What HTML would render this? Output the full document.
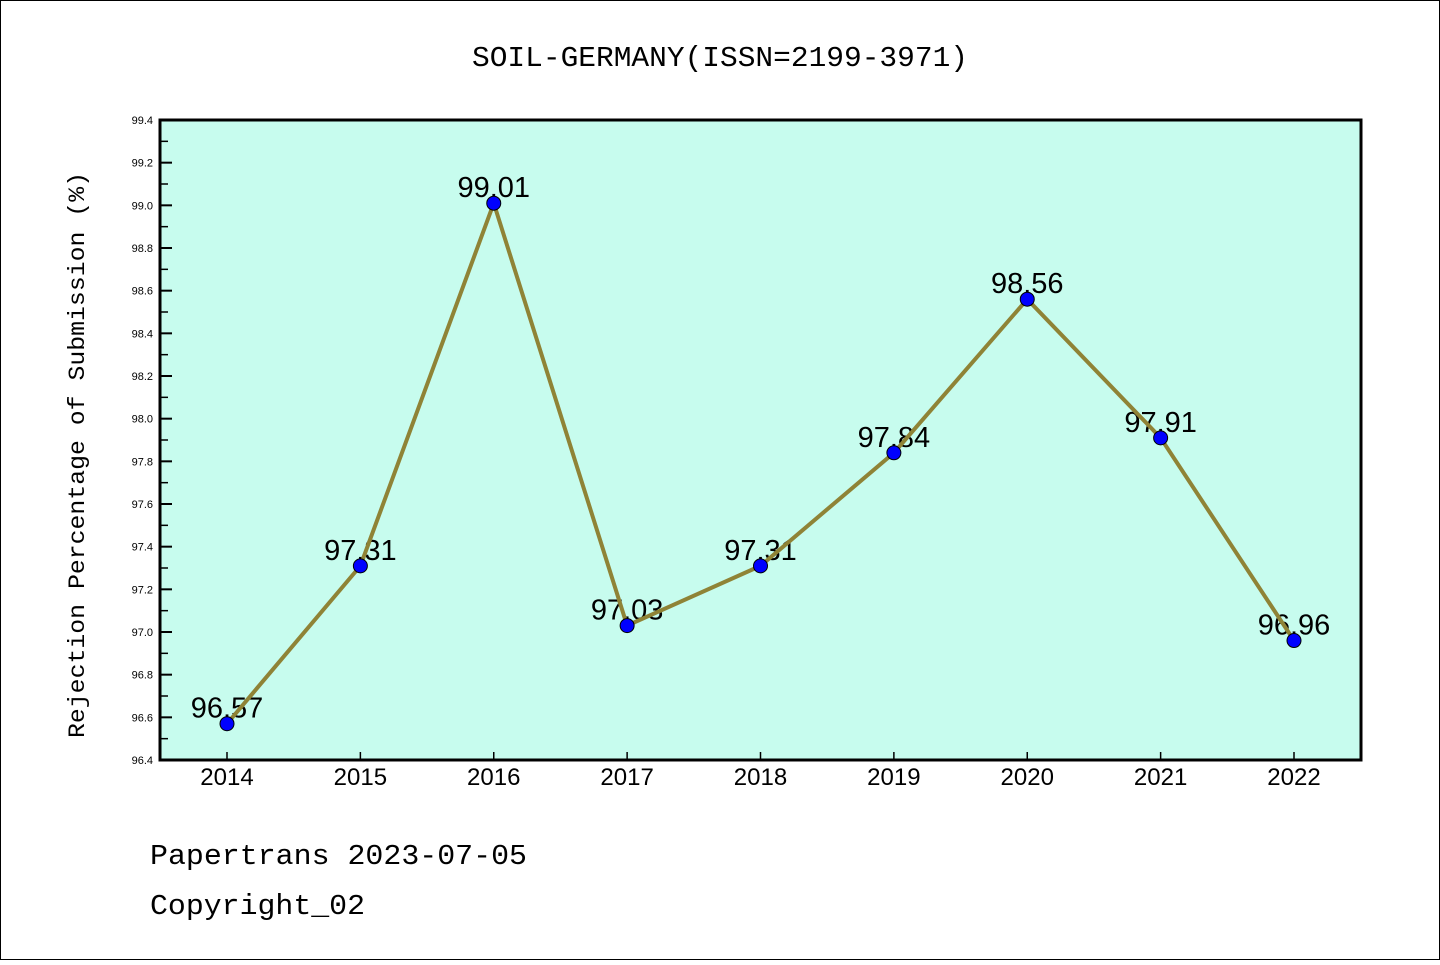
<!DOCTYPE html>
<html><head><meta charset="utf-8"><style>
html,body{margin:0;padding:0;background:#fff}
svg text{font-family:"Liberation Mono",monospace}
svg text.sans{font-family:"Liberation Sans",sans-serif}
</style></head><body>
<svg id="chart" width="1440" height="960" xmlns="http://www.w3.org/2000/svg">
<rect x="0.5" y="0.5" width="1439" height="959" fill="#fff" stroke="#000"/>
<text x="472" y="66" font-size="29" textLength="496" lengthAdjust="spacingAndGlyphs">SOIL-GERMANY(ISSN=2199-3971)</text>
<rect x="160" y="120" width="1201" height="640" fill="#c7fcee"/>
<g id="ticks"></g>
<g id="labels"></g>
<polyline id="line" fill="none" stroke="#8f8336" stroke-width="4"/>
<g id="points"></g>
<rect x="160" y="120" width="1201" height="640" fill="none" stroke="#000" stroke-width="3"/>
<text transform="translate(84,738) rotate(-90)" font-size="23" textLength="566" lengthAdjust="spacingAndGlyphs">Rejection Percentage of Submission (%)</text>
<text x="150" y="864" font-size="29" textLength="377" lengthAdjust="spacingAndGlyphs">Papertrans 2023-07-05</text>
<text x="150" y="914" font-size="29" textLength="215" lengthAdjust="spacingAndGlyphs">Copyright_02</text>
</svg>
<script>
const years = [2014,2015,2016,2017,2018,2019,2020,2021,2022];
const values = [96.57,97.31,99.01,97.03,97.31,97.84,98.56,97.91,96.96];
const yTicks = [96.4,96.6,96.8,97.0,97.2,97.4,97.6,97.8,98.0,98.2,98.4,98.6,98.8,99.0,99.2,99.4];
(function(){
const NS="http://www.w3.org/2000/svg";
const yMin=96.4,yMax=99.4,plotTop=120,plotBot=760;
const xs=i=>227+i*(1294-227)/(years.length-1);
const ys=v=>plotBot-(v-yMin)/(yMax-yMin)*(plotBot-plotTop);
function mk(t,a,p){const e=document.createElementNS(NS,t);for(const k in a)e.setAttribute(k,a[k]);p.appendChild(e);return e;}
const tk=document.getElementById('ticks');
yTicks.forEach((v,i)=>{
  const y=ys(v);
  const l=mk('line',{x1:160,x2:172,y1:y,y2:y,stroke:'#000','stroke-width':2},tk);
  
  
  if(i<yTicks.length-1){const m=mk('line',{x1:160,x2:168,y1:ys(v+0.1),y2:ys(v+0.1),stroke:'#000','stroke-width':1.5},tk);
  
  }
  const t=mk('text',{x:153,y:y+4,'font-size':11,'text-anchor':'end','class':'sans'},tk);
  t.textContent=v.toFixed(1);
  
  
});
years.forEach((yr,i)=>{
  const x=xs(i);
  const l=mk('line',{x1:x,x2:x,y1:760,y2:752,stroke:'#000','stroke-width':1.5},tk);
  
  
  const t=mk('text',{x:x,y:785,'font-size':24,'text-anchor':'middle','class':'sans'},tk);
  t.textContent=yr;
  
  
});
const lb=document.getElementById('labels'),pt=document.getElementById('points');
document.getElementById('line').setAttribute('points',values.map((v,i)=>xs(i)+','+ys(v)).join(' '));
values.forEach((v,i)=>{
  const t=mk('text',{x:xs(i),y:ys(v)-6,'font-size':29,'text-anchor':'middle','class':'sans'},lb);
  t.textContent=v.toFixed(2);
  
  
  const c=mk('circle',{cx:xs(i),cy:ys(v),r:7,fill:'#0000ff',stroke:'#000','stroke-width':1},pt);
  
  
});
})();
</script>
</body></html>
